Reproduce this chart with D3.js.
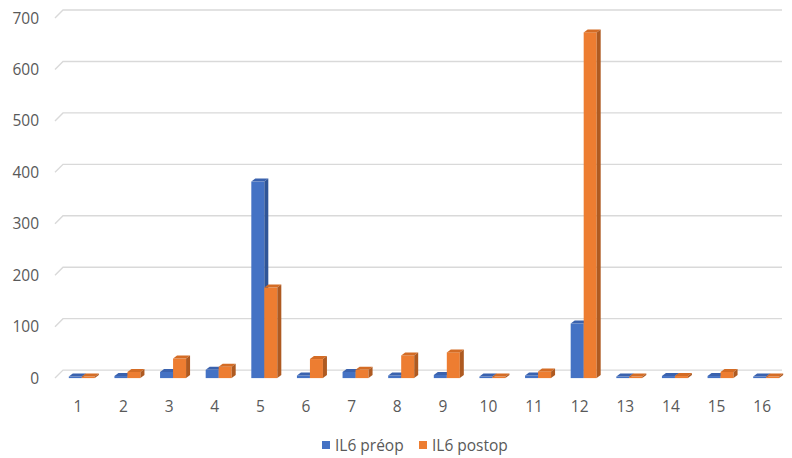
<!DOCTYPE html>
<html>
<head>
<meta charset="utf-8">
<script src="https://cdn.jsdelivr.net/npm/d3@7"></script>
<style>
  html, body { margin: 0; padding: 0; background: #fff; }
  svg { display: block; font-family: "Open Sans", "Noto Sans", sans-serif; }
</style>
</head>
<body>
<svg id="chart" width="792" height="458"></svg>
<script>
// Patients 1–16, IL6 before and after surgery
const categories = ["1","2","3","4","5","6","7","8","9","10","11","12","13","14","15","16"];
const preop  = [3, 4, 12, 16, 382, 5, 12, 5, 6, 3, 5, 106, 3, 4, 4, 3];
const postop = [3, 12, 38, 22, 176, 37, 16, 44, 50, 3, 13, 672, 3, 4, 12, 3];
const yTicks = [0, 100, 200, 300, 400, 500, 600, 700];
const seriesNames = ["IL6 préop", "IL6 postop"];

const colors = [
  { front: "#4472c4", top: "#3a62ae", side: "#2f5597" },
  { front: "#ed7d31", top: "#d46c25", side: "#ae5a21" }
];

const svg = d3.select("#chart");

// Oblique 3D offsets: back wall vs floor front, and bar depth
const wallDx = 8, wallDy = -8;
const barDx = 4, barDy = -3;
const barW = 13;

const x = d3.scaleBand().domain(categories).range([55, 785]);
const y = d3.scaleLinear().domain([0, 700]).range([378.1, 18]);

// Gridlines: short diagonal on the side wall, then across the back wall
const grid = svg.append("g");
yTicks.forEach(v => {
  const yy = y(v);
  grid.append("path")
    .attr("d", `M55,${yy}L${55 + wallDx},${yy + wallDy}L782,${yy + wallDy}`)
    .attr("fill", "none")
    .attr("stroke", "#d9d9d9")
    .attr("stroke-width", 1.4);
});

// Y axis labels
svg.append("g").selectAll("text").data(yTicks).join("text")
  .attr("x", 39)
  .attr("y", d => y(d) + 5.5)
  .attr("text-anchor", "end")
  .attr("font-size", 15.5)
  .attr("fill", "#595959")
  .text(d => d);

// X axis labels
svg.append("g").selectAll("text").data(categories).join("text")
  .attr("x", d => x(d) + x.bandwidth() / 2)
  .attr("y", 412)
  .attr("text-anchor", "middle")
  .attr("font-size", 15.5)
  .attr("fill", "#595959")
  .text(d => d);

// 3D columns
const bars = svg.append("g");
const base = y(0);
categories.forEach((c, i) => {
  const cx = x(c) + x.bandwidth() / 2 + 4;
  [preop[i], postop[i]].forEach((v, s) => {
    const x0 = cx - barW + s * barW;
    const x1 = x0 + barW;
    const yt = y(v);
    const col = colors[s];
    const g = bars.append("g");
    g.append("rect")
      .attr("x", x0).attr("y", yt)
      .attr("width", barW).attr("height", Math.max(0, base - yt))
      .attr("fill", col.front);
    g.append("path")
      .attr("d", `M${x0},${yt}L${x0 + barDx},${yt + barDy}L${x1 + barDx},${yt + barDy}L${x1},${yt}Z`)
      .attr("fill", col.top);
    g.append("path")
      .attr("d", `M${x1},${yt}L${x1 + barDx},${yt + barDy}L${x1 + barDx},${base + barDy}L${x1},${base}Z`)
      .attr("fill", col.side);
  });
});

// Legend
const legend = svg.append("g");
const legendX = [322, 419];
seriesNames.forEach((name, s) => {
  legend.append("rect")
    .attr("x", legendX[s]).attr("y", 441)
    .attr("width", 8).attr("height", 8)
    .attr("fill", colors[s].front);
  legend.append("text")
    .attr("x", legendX[s] + 13).attr("y", 450.5)
    .attr("font-size", 15.5)
    .attr("fill", "#595959")
    .text(name);
});
</script>
</body>
</html>
